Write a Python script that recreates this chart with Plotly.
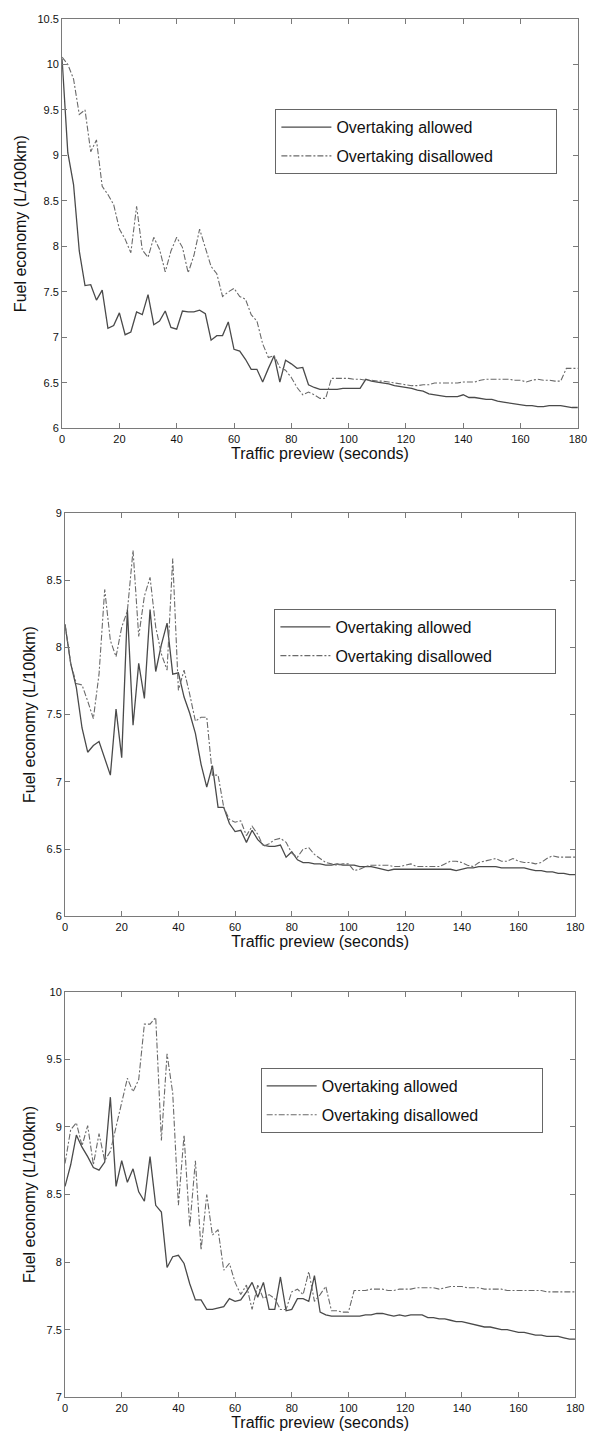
import plotly.graph_objects as go

# ---------------- data ----------------
preview_s = list(range(0, 181, 2))

p1_allowed = [
    10.06, 9.03, 8.68, 7.95, 7.57, 7.58, 7.41, 7.52, 7.10, 7.13,
    7.27, 7.03, 7.06, 7.28, 7.25, 7.47, 7.14, 7.18, 7.29, 7.11,
    7.09, 7.29, 7.28, 7.28, 7.30, 7.26, 6.97, 7.02, 7.02, 7.17,
    6.87, 6.85, 6.76, 6.65, 6.65, 6.51, 6.66, 6.80, 6.51, 6.75,
    6.71, 6.66, 6.67, 6.48, 6.45, 6.43, 6.43, 6.43, 6.43, 6.44,
    6.44, 6.44, 6.44, 6.54, 6.52, 6.51, 6.50, 6.49, 6.47, 6.46,
    6.45, 6.44, 6.42, 6.41, 6.38, 6.37, 6.36, 6.35, 6.35, 6.35,
    6.37, 6.34, 6.34, 6.33, 6.32, 6.32, 6.30, 6.29, 6.28, 6.27,
    6.26, 6.25, 6.25, 6.24, 6.24, 6.25, 6.25, 6.25, 6.24, 6.23,
    6.23]
p1_disallowed = [
    10.08, 10.00, 9.84, 9.45, 9.50, 9.04, 9.17, 8.66, 8.57, 8.46,
    8.19, 8.08, 7.93, 8.44, 7.96, 7.88, 8.10, 7.97, 7.72, 7.95,
    8.10, 7.99, 7.71, 7.90, 8.19, 7.97, 7.78, 7.70, 7.45, 7.50,
    7.54, 7.45, 7.42, 7.25, 7.18, 6.93, 6.78, 6.80, 6.67, 6.64,
    6.56, 6.45, 6.37, 6.40, 6.37, 6.33, 6.33, 6.55, 6.55, 6.55,
    6.55, 6.54, 6.54, 6.53, 6.53, 6.52, 6.52, 6.51, 6.50, 6.49,
    6.48, 6.47, 6.47, 6.48, 6.48, 6.50, 6.50, 6.50, 6.50, 6.50,
    6.51, 6.51, 6.51, 6.53, 6.54, 6.54, 6.54, 6.54, 6.54, 6.53,
    6.53, 6.51, 6.53, 6.54, 6.53, 6.53, 6.52, 6.52, 6.66, 6.66,
    6.66]

p2_allowed = [
    8.17, 7.88, 7.70, 7.40, 7.22, 7.27, 7.30, 7.18, 7.05, 7.54,
    7.18, 8.28, 7.42, 7.88, 7.62, 8.28, 7.82, 8.02, 8.18, 7.80,
    7.81, 7.63, 7.51, 7.36, 7.13, 6.96, 7.12, 6.81, 6.81, 6.69,
    6.63, 6.64, 6.55, 6.64, 6.57, 6.53, 6.52, 6.52, 6.53, 6.44,
    6.48, 6.42, 6.40, 6.40, 6.39, 6.39, 6.38, 6.38, 6.39, 6.38,
    6.38, 6.38, 6.37, 6.37, 6.37, 6.36, 6.35, 6.34, 6.35, 6.35,
    6.35, 6.35, 6.35, 6.35, 6.35, 6.35, 6.35, 6.35, 6.35, 6.34,
    6.35, 6.36, 6.36, 6.37, 6.37, 6.37, 6.37, 6.36, 6.36, 6.36,
    6.36, 6.36, 6.35, 6.34, 6.34, 6.33, 6.33, 6.32, 6.32, 6.31,
    6.31]
p2_disallowed = [
    8.17, 7.88, 7.73, 7.72, 7.60, 7.47, 7.80, 8.43, 8.05, 7.93,
    8.15, 8.27, 8.72, 8.08, 8.38, 8.52, 8.15, 7.95, 7.83, 8.66,
    7.68, 7.83, 7.65, 7.45, 7.48, 7.48, 7.05, 7.05, 6.81, 6.72,
    6.70, 6.71, 6.60, 6.67, 6.61, 6.52, 6.54, 6.57, 6.58, 6.55,
    6.47, 6.44, 6.50, 6.51, 6.46, 6.43, 6.40, 6.39, 6.38, 6.39,
    6.39, 6.34, 6.35, 6.37, 6.38, 6.38, 6.38, 6.38, 6.37, 6.37,
    6.38, 6.39, 6.37, 6.37, 6.37, 6.37, 6.37, 6.39, 6.41, 6.41,
    6.40, 6.38, 6.37, 6.40, 6.41, 6.42, 6.43, 6.41, 6.41, 6.43,
    6.41, 6.40, 6.40, 6.39, 6.40, 6.43, 6.45, 6.44, 6.44, 6.44,
    6.44]

p3_allowed = [
    8.56, 8.72, 8.94, 8.85, 8.78, 8.70, 8.68, 8.74, 9.22, 8.56,
    8.75, 8.59, 8.69, 8.52, 8.45, 8.78, 8.42, 8.37, 7.96, 8.04,
    8.05, 7.99, 7.84, 7.72, 7.72, 7.65, 7.65, 7.66, 7.67, 7.73,
    7.71, 7.72, 7.78, 7.85, 7.74, 7.85, 7.65, 7.65, 7.89, 7.64,
    7.65, 7.73, 7.73, 7.71, 7.90, 7.63, 7.61, 7.60, 7.60, 7.60,
    7.60, 7.60, 7.60, 7.61, 7.61, 7.62, 7.62, 7.61, 7.60, 7.61,
    7.60, 7.61, 7.61, 7.61, 7.59, 7.59, 7.58, 7.58, 7.57, 7.56,
    7.56, 7.55, 7.54, 7.53, 7.52, 7.52, 7.51, 7.50, 7.50, 7.49,
    7.48, 7.48, 7.47, 7.46, 7.46, 7.45, 7.45, 7.45, 7.44, 7.43,
    7.43]
p3_disallowed = [
    8.73, 8.98, 9.03, 8.86, 9.01, 8.72, 8.95, 8.75, 8.82, 9.00,
    9.20, 9.36, 9.26, 9.35, 9.76, 9.76, 9.81, 8.90, 9.54, 9.25,
    8.42, 8.94, 8.26, 8.75, 8.09, 8.50, 8.20, 8.24, 7.94, 7.99,
    7.85, 7.76, 7.83, 7.65, 7.83, 7.73, 7.76, 7.73, 7.65, 7.65,
    7.78, 7.80, 7.76, 7.93, 7.71, 7.76, 7.82, 7.64, 7.64, 7.63,
    7.63, 7.79, 7.79, 7.79, 7.80, 7.80, 7.80, 7.79, 7.79, 7.80,
    7.80, 7.80, 7.81, 7.81, 7.81, 7.81, 7.80, 7.81, 7.82, 7.82,
    7.82, 7.81, 7.81, 7.81, 7.80, 7.80, 7.80, 7.80, 7.79, 7.79,
    7.79, 7.79, 7.79, 7.79, 7.79, 7.78, 7.78, 7.78, 7.78, 7.78,
    7.78]

series_names = ["Overtaking allowed", "Overtaking disallowed"]
x_ticks = [0, 20, 40, 60, 80, 100, 120, 140, 160, 180]
x_tick_labels = ["0", "20", "40", "60", "80", "100", "120", "140", "160", "180"]
p1_y_ticks = [6, 6.5, 7, 7.5, 8, 8.5, 9, 9.5, 10, 10.5]
p1_y_labels = ["6", "6.5", "7", "7.5", "8", "8.5", "9", "9.5", "10", "10.5"]
p2_y_ticks = [6, 6.5, 7, 7.5, 8, 8.5, 9]
p2_y_labels = ["6", "6.5", "7", "7.5", "8", "8.5", "9"]
p3_y_ticks = [7, 7.5, 8, 8.5, 9, 9.5, 10]
p3_y_labels = ["7", "7.5", "8", "8.5", "9", "9.5", "10"]
x_title = "Traffic preview (seconds)"
y_title = "Fuel economy (L/100km)"

# ---------------- layout helpers ----------------
W, H = 594, 1440
FONT = "Arial, Liberation Sans, Helvetica, sans-serif"
AXIS_COL = "#7a7a7a"
SOLID_COL = "#4a4a4a"
DASH_COL = "#6a6a6a"
LEG_PAD = "\u00a0" * 13  # blank room at the right of the legend box, as in the original

panels = [
    dict(allowed=p1_allowed, dis=p1_disallowed, yr=[6, 10.5], yt=p1_y_ticks, yl=p1_y_labels,
         px=(60.3, 586.7), py=(13, 426), leg=(278, 104)),
    dict(allowed=p2_allowed, dis=p2_disallowed, yr=[6, 9], yt=p2_y_ticks, yl=p2_y_labels,
         px=(63.3, 584), py=(511, 918), leg=(277, 608)),
    dict(allowed=p3_allowed, dis=p3_disallowed, yr=[7, 10], yt=p3_y_ticks, yl=p3_y_labels,
         px=(63.3, 584), py=(994, 1403), leg=(263, 1071)),
]

fig = go.Figure()
layout = dict(
    width=W, height=H,
    margin=dict(l=0, r=0, t=0, b=0),
    paper_bgcolor="white", plot_bgcolor="white",
    font=dict(family=FONT, color="#111111", size=11),
    showlegend=True,
)

for i, p in enumerate(panels, start=1):
    sfx = "" if i == 1 else str(i)
    xa, ya = "x" + sfx, "y" + sfx
    leg = "legend" + sfx
    fig.add_trace(go.Scatter(
        x=preview_s, y=p["allowed"], mode="lines", name=series_names[0],
        xaxis=xa, yaxis=ya, legend=leg, legendgroup="a%d" % i,
        line=dict(color=SOLID_COL, width=1.3, dash="solid")))
    fig.add_trace(go.Scatter(
        x=preview_s, y=p["dis"], mode="lines", name=series_names[1] + LEG_PAD,
        xaxis=xa, yaxis=ya, legend=leg, legendgroup="d%d" % i,
        line=dict(color=DASH_COL, width=1.1, dash="6px,2px,2px,2px")))

    x0, x1 = p["px"]
    y0, y1 = p["py"]
    common = dict(showline=True, linecolor=AXIS_COL, linewidth=1, mirror="ticks",
                  ticks="inside", ticklen=5, tickcolor=AXIS_COL, tickwidth=1,
                  showgrid=False, zeroline=False,
                  tickfont=dict(family=FONT, size=11, color="#111111"))
    layout["xaxis" + sfx] = dict(
        domain=[x0 / W, x1 / W], anchor=ya, range=[0, 180],
        tickmode="array", tickvals=x_ticks, ticktext=x_tick_labels,
        title=dict(text=x_title, font=dict(family=FONT, size=16, color="#111111"), standoff=1),
        **common)
    layout["yaxis" + sfx] = dict(
        domain=[1 - y1 / H, 1 - y0 / H], anchor=xa, range=p["yr"],
        tickmode="array", tickvals=p["yt"], ticktext=p["yl"],
        title=dict(text=y_title, font=dict(family=FONT, size=16, color="#111111"), standoff=6),
        **common)
    lx, ly = p["leg"]
    layout[leg] = dict(
        x=lx / W, y=1 - ly / H, xanchor="left", yanchor="top",
        bgcolor="white", bordercolor="#666666", borderwidth=1,
        font=dict(family=FONT, size=16, color="#111111"),
        itemwidth=50, tracegroupgap=5,
    )

fig.update_layout(**layout)
fig.write_html("out.html")
